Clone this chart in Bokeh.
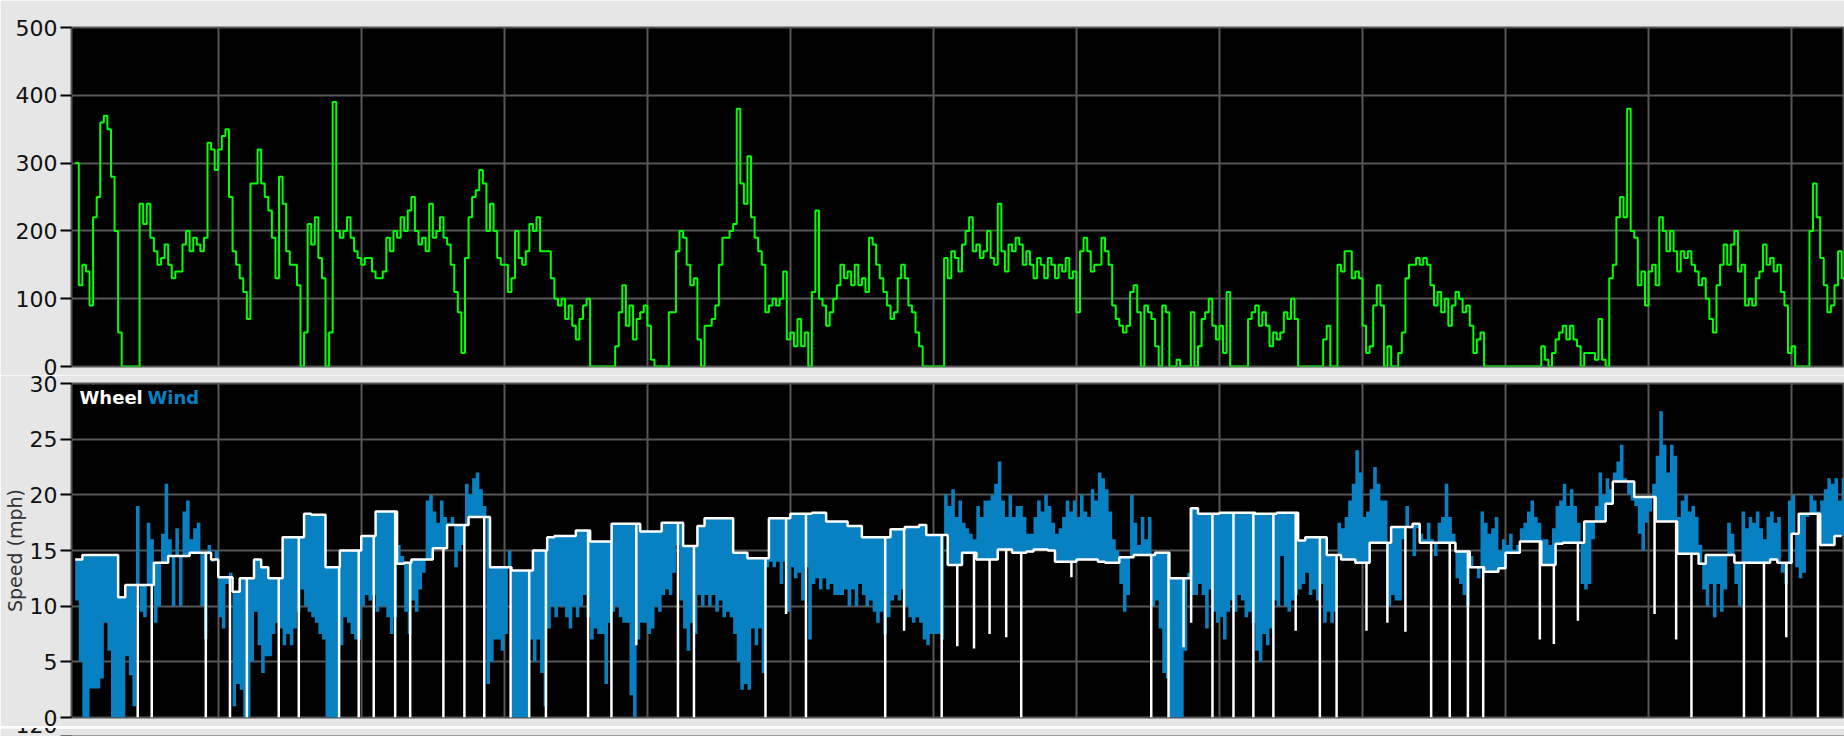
import numpy as np
from bokeh.plotting import figure
from bokeh.layouts import column
from bokeh.models import Range1d, FixedTicker, Grid, Label
from bokeh.embed import file_html
from bokeh.resources import INLINE

# ---- power (W), every 0.25 min ----
P_STEP = 0.25
power = [
    300,120,150,140,90,220,250,360,370,350,280,200,50,0,0,0,0,0,240,210,
    240,190,170,150,160,180,150,130,140,140,180,200,170,190,180,170,190,330,320,290,
    320,340,350,250,170,150,130,110,70,270,270,320,270,250,230,190,130,280,240,170,
    150,150,120,0,50,210,180,220,160,130,0,50,390,200,190,200,220,190,170,160,
    150,160,160,140,130,130,140,190,170,200,190,220,
    200,230,250,200,180,190,170,240,190,200,220,190,180,150,110,80,20,160,220,250,
    260,290,270,200,240,200,160,150,150,110,130,200,160,150,170,210,200,220,170,170,
    170,130,100,90,100,70,90,60,40,70,90,100,0,0,0,0,0,0,0,30,
    80,120,60,90,40,70,80,90,60,10,0,0,0,0,80,80,170,200,190,150,
    120,130,40,0,60,60,70,90,150,190,190,200,210,380,270,240,310,220,190,170,
    150,80,90,100,90,100,140,40,50,30,70,30,50,0,110,230,100,90,60,80,
    100,120,150,130,140,120,150,120,130,110,190,180,150,130,110,90,70,80,130,150,
    130,90,80,50,30,0,0,0,0,0,0,160,130,170,160,140,180,200,220,170,
    180,160,170,200,160,150,240,170,140,180,170,190,180,150,170,150,130,160,150,130,
    160,150,130,150,140,160,130,140,80,170,190,170,140,150,150,190,170,150,90,70,
    60,50,60,110,120,80,0,90,80,70,30,0,90,80,0,0,10,0,0,0,
    80,0,30,70,80,100,60,40,60,20,110,0,0,0,0,0,70,80,90,60,
    80,60,30,50,40,50,80,70,100,70,0,0,0,0,0,0,0,40,60,0,
    0,150,140,170,170,130,140,130,60,20,30,90,120,90,0,30,0,0,
    20,50,130,150,150,160,150,160,150,120,90,110,80,100,60,90,110,100,80,90,
    60,20,40,50,0,0,0,0,0,0,0,0,0,0,0,0,0,0,0,0,
    30,10,0,20,40,50,60,40,60,40,30,0,20,20,20,10,70,10,0,130,
    150,220,250,220,380,200,190,120,140,90,140,150,120,220,200,170,200,170,140,170,
    160,170,150,140,120,130,100,70,50,120,150,180,150,180,200,140,150,90,100,90,
    130,140,180,150,160,140,150,110,90,20,30,0,0,0,0,200,270,220,160,120,
    80,90,120,170,130,150]

# ---- wind speed (mph), every 0.25 min ----
wind = [
    10.5,5,0,0,2.6,2.6,2.6,3.5,8.5,6,0,0,0,0,5.5,3.8,1,19,9.5,9,
    17.5,16,8.5,10,16.5,21,16,10,17,10,18.5,19.5,16,17,17.5,10,7,15.5,14,15,
    9,8,12,13,1,3,2.5,0,0,5,9.5,6.5,4,5.5,5.5,7.5,8.5,8,6.5,7.5,
    6.5,8,9.5,11.5,10,9.5,9,8.5,7.5,7,0,0,0,0,6.5,9,8.5,7.5,7,7,
    10,11,10.5,11,9.5,10,10,9,7.5,9,15.5,14.5,
    9.5,7.5,10.5,9.5,11.5,13,19.5,20,18.5,17.5,19.5,18,17.5,18,13.5,15,15.5,21,20,21.5,
    22,20.5,19,3,5,7,7,6,7.5,15,0,0,0,0,0,7,5,7,4,1,
    8,10,9,10,10,9,8,10,9,10,11,9,7,8,7.5,7.5,3,8.5,9.5,10,
    9,8.5,8.5,2,0,7,8.5,8.5,7.5,8,10,9.5,11,11.5,11,13,15.5,10.5,8,6,
    8.5,7.5,11,10,11,10,11,9.5,10.5,9,9.5,9,7.5,5,2.5,3,2.5,8,6.5,8,
    4,13.5,14,13.5,14,12,14,9.5,13.5,12.5,13,10.5,13.5,7,12,12.5,11.5,12.5,11.5,12,
    11,11,11,11.5,10,11.5,10,12,11,10,10.5,9.5,8.5,9.5,7.5,9,10.5,11,10.5,11.5,
    10,9,8.5,9,8.5,7,6.5,7.5,7.5,7.5,7,20,19,20.5,18,19.5,17.5,17,16.5,16,
    19,18,19.5,19.5,20,21,23,19.5,18,20,18,19,19,18,16.5,16.5,18,19.5,18.5,20,
    19,17.5,16.5,17,18,19.5,18.5,19.5,18,20,18.5,18,20.5,19.5,22,21.5,20.5,18.5,16,15,
    12,9.5,11,20,17.5,15.5,18,16,18,10,10.5,8,4,3.5,0,0,0,0,6,13,
    11,11,12,11,8,11.5,9.5,8.5,9,7,9.5,10.5,9.5,11,10.5,9,9.5,8.5,6,5,
    7.5,6.5,8,10.5,10,14.5,10,9.5,10.5,11,11.5,12,13,11,11.5,10.5,12,8.5,9.5,8.5,
    9.5,17.5,17,18,19.5,21,24,22,18,18.5,20.5,22.5,21,19.5,19.5,10,11,10.5,
    10.5,16,19,17,14.5,17,16.5,16,17.5,16,14.5,17.5,18,21,18,16.5,12.5,12,11,10,
    14.5,13.5,12.5,18.5,17.5,16.5,17,18,15,16,15.5,16.5,15,15.5,17,17.5,18.5,19.5,18,17.5,
    16,16,15.5,17,19,19.5,21,19,20.5,19,17.5,12,11.5,12,16,19,22,20,21.5,20.5,
    22,23,24.5,21.5,20,19.5,19,16.5,15,17.5,18.5,21,23.5,27.5,24.5,22,24.5,23.5,18,19.5,
    20,18.5,19,18,15.5,11.5,10,12,9,12,9.5,11.5,17.5,16.5,12,10,18.5,17,18,17.5,
    18.5,17,16,18,18.5,17.5,18,13,12,19.5,20,13.5,12.5,13,18,20,19.5,18.5,19.5,20.5,
    21.5,21,21.5,19.5,21.5,20]

# ---- wheel speed (mph), every 0.5 min ----
W_STEP = 0.5
wheel = [14.2,14.6,14.6,14.6,14.6,14.6,10.8,11.9,11.9,11.9,11.9,13.9,13.9,14.5,14.5,14.5,
         14.8,14.8,14.8,14.2,12.6,12.6,11.3,12.5,12.5,14.2,13.5,12.5,12.5,16.2,16.2,16.2,
         18.3,18.2,18.2,13.5,13.5,15.0,15.0,15.0,16.3,16.3,18.5,18.5,18.5,13.8,
         13.9,14.2,14.2,14.2,15.2,15.2,17.3,17.3,17.3,18.0,18.0,18.0,13.5,13.5,13.5,
         13.2,13.2,13.2,15.0,15.0,16.2,16.3,16.3,16.3,16.8,16.8,15.8,15.8,15.8,
         17.4,17.4,17.4,17.4,16.7,16.7,16.7,17.5,17.5,17.5,15.4,15.4,17.2,
         17.9,17.9,17.9,17.9,14.8,14.8,14.3,14.3,14.3,17.9,17.9,17.9,18.3,18.3,18.3,
         18.4,18.4,17.6,17.6,17.6,17.2,17.2,16.2,16.2,16.2,16.2,16.9,16.9,
         17.1,17.1,17.3,16.4,16.4,16.4,13.7,13.7,14.8,14.8,14.2,14.2,14.2,15.1,15.1,
         14.8,14.8,14.9,15.1,15.1,15.0,14.0,14.0,14.0,14.2,14.2,14.2,14.0,13.9,13.9,
         14.4,14.4,14.6,14.6,14.6,14.8,14.8,12.5,12.5,12.5,18.8,18.3,18.3,18.3,
         18.4,18.4,18.4,18.4,18.4,18.3,18.3,18.3,18.4,18.4,18.4,15.9,16.2,16.2,16.2,
         14.6,14.6,14.2,14.2,13.9,13.9,15.7,15.7,15.7,17.1,17.1,
         17.1,17.4,15.7,15.7,15.7,15.7,15.7,14.9,14.9,13.5,13.5,13.1,13.1,13.4,
         14.8,14.8,15.8,15.8,15.8,13.7,13.7,15.6,15.7,15.7,15.7,17.6,17.6,17.6,19.2,
         21.2,21.2,21.2,19.8,19.8,19.8,17.6,17.6,17.6,14.7,14.7,14.7,13.8,
         14.6,14.6,14.6,14.6,13.9,13.9,13.9,13.9,13.9,14.2,13.9,13.9,16.5,
         18.3,18.3,18.3,15.5,15.5,16.3,16.3]

# wheel-speed drop-outs (time in min, lowest value reached)
drop_t = [4.37,5.35,9.13,10.82,12.0,14.23,15.63,18.45,19.82,20.87,22.37,
          23.42,25.74,27.21,28.6,30.44,31.74,32.91,35.86,37.49,39.23,42.14,43.26,48.26,49.7,51.09,56.63,
          57.95,60.58,61.67,62.84,63.93,65.09,66.14,69.65,75.23,76.44,77.49,78.02,79.51,80.98,82.37,
          83.77,85.33,87.02,88.19,90.28,91.74,
          93.0,94.8,96.1,97.37,98.44,102.4,103.38,105.06,110.42,111.93,113.0,116.67,118.07,119.63,121.84]
drop_low = [0,0,0,0,0,0,0,0,0,0,0,
            0,0,0,0,0,0,0,0,0,6.5,0,0,0,9.3,0,0,
            7.8,0,6.4,6.2,7.5,7.2,0,12.6,0,0,6.3,8.5,0,0,0,0,7.8,0,0,7.8,8.5,
            7.7,0,0,0,0,7.0,6.6,8.7,9.3,7.0,0,0,0,7.2,0]

power_ticks = [0, 100, 200, 300, 400, 500]
speed_ticks = [0, 5, 10, 15, 20, 25, 30]
next_ticks = [120]
time_grid = [10, 20, 30, 40, 50, 60, 70, 80, 90, 100, 110, 120]

tp = np.arange(len(power)) * P_STEP
tw = np.arange(len(wind)) * P_STEP
wheel_fine = np.repeat(wheel, int(W_STEP / P_STEP))[:len(wind)]
tw_wheel = np.arange(len(wheel)) * W_STEP
wheel_at_drop = [wheel[int(v // W_STEP)] for v in drop_t]

X0, X1 = -0.26, 123.70
BG = "#e6e6e6"
GRID = "#575757"
FONT = "DejaVu Sans"


def make_fig(height, top, bottom, ymin, ymax, ticks):
    p = figure(width=1844, height=height, x_range=Range1d(X0, X1), y_range=Range1d(ymin, ymax),
               output_backend="svg", toolbar_location=None, x_axis_location=None,
               min_border_left=68, min_border_right=0, min_border_top=top, min_border_bottom=bottom,
               background_fill_color="black", border_fill_color=BG,
               outline_line_color="#555555", outline_line_width=2)
    for g in p.grid:
        g.visible = False
    p.add_layout(Grid(dimension=0, ticker=FixedTicker(ticks=time_grid),
                      grid_line_color=GRID, grid_line_width=2))
    p.add_layout(Grid(dimension=1, ticker=FixedTicker(ticks=ticks),
                      grid_line_color=GRID, grid_line_width=2))
    ax = p.yaxis[0]
    ax.ticker = FixedTicker(ticks=ticks)
    ax.axis_line_color = None
    ax.major_tick_out = 11
    ax.major_tick_in = 0
    ax.major_tick_line_color = "black"
    ax.major_tick_line_width = 2
    ax.minor_tick_line_color = None
    ax.major_label_standoff = 3
    ax.major_label_text_font = FONT
    ax.major_label_text_font_size = "22px"
    ax.major_label_text_color = "#111111"
    return p


p1 = make_fig(375, 27, 9, 0, 500, power_ticks)
p1.step(tp, power, mode="after", line_color="#00ff00", line_width=2)

p2 = make_fig(351, 8, 9, 0, 30, speed_ticks)
p2.varea_step(x=tw, y1=wind, y2=wheel_fine, step_mode="after", fill_color="#0781c2")
p2.step(tw_wheel, wheel, mode="after", line_color="white", line_width=2.5)
p2.segment(x0=drop_t, y0=drop_low, x1=drop_t, y1=wheel_at_drop, line_color="white", line_width=2.5)
p2.yaxis.axis_label = "Speed (mph)"
p2.yaxis.axis_label_text_font = FONT
p2.yaxis.axis_label_text_font_size = "19px"
p2.yaxis.axis_label_text_font_style = "normal"
p2.yaxis.axis_label_text_color = "#333333"
p2.yaxis.axis_label_standoff = 1

p2.add_layout(Label(x=0.3, y=29.65, text="Wheel", text_color="white", text_font=FONT,
                    text_font_style="bold", text_font_size="18px", text_baseline="top"))
p2.add_layout(Label(x=5.05, y=29.65, text="Wind", text_color="#0781c2", text_font=FONT,
                    text_font_style="bold", text_font_size="18px", text_baseline="top"))

# top edge of the next (cut-off) panel
p3 = make_fig(10, 8, 0, 110, 120, next_ticks)

layout = column(p1, p2, p3, spacing=0)
open("out.html", "w").write(file_html(layout, INLINE))
